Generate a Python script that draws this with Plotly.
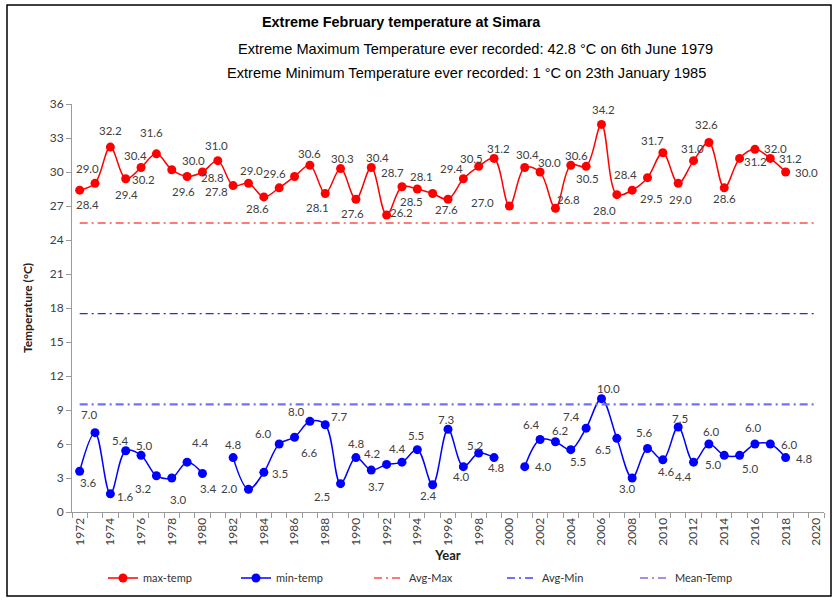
import plotly.graph_objects as go

years = list(range(1972, 2019))
max_temp = [28.4, 29.0, 32.2, 29.4, 30.4, 31.6, 30.2, 29.6, 30.0, 31.0,
            28.8, 29.0, 27.8, 28.6, 29.6, 30.6, 28.1, 30.3, 27.6, 30.4,
            26.2, 28.7, 28.5, 28.1, 27.6, 29.4, 30.5, 31.2, 27.0, 30.4,
            30.0, 26.8, 30.6, 30.5, 34.2, 28.0, 28.4, 29.5, 31.7, 29.0,
            31.0, 32.6, 28.6, 31.2, 32.0, 31.2, 30.0]
min_temp = [3.6, 7.0, 1.6, 5.4, 5.0, 3.2, 3.0, 4.4, 3.4, None,
            4.8, 2.0, 3.5, 6.0, 6.6, 8.0, 7.7, 2.5, 4.8, 3.7,
            4.2, 4.4, 5.5, 2.4, 7.3, 4.0, 5.2, 4.8, None, 4.0,
            6.4, 6.2, 5.5, 7.4, 10.0, 6.5, 3.0, 5.6, 4.6, 7.5,
            4.4, 6.0, 5.0, 5.0, 6.0, 6.0, 4.8]
line_years = list(range(1972, 2021))
avg_max = 25.5
avg_min = 9.5
mean_temp = 17.5
x_tick_years = list(range(1972, 2021, 2))
y_ticks = list(range(0, 37, 3))

# label offsets from each point (screen px: dx right, dy down)
max_off = [(8, 14), (-8, -15), (0, -17), (1, 16), (-6, -12), (-5, -21), (-28, 10),
           (-4, 15), (-9, -12), (-1, -15), (-21, -8), (3, -13), (-47, -5), (-22, 21),
           (-20, -3), (0, -12), (-8, 14), (2, -10), (-3, 14), (6, -10), (15, -3),
           (-9, -14), (-6, 12), (-11, -17), (-2, 10), (-12, -10), (-7, -8), (4, -10),
           (-27, -4), (3, -13), (9, -10), (13, -9), (6, -10), (1, 12), (2, -15),
           (-12, 16), (-7, -16), (4, 21), (-10, -12), (2, 16), (-1, -12), (-2, -18),
           (0, 11), (16, 3), (21, -1), (20, 0), (21, 0)]
min_off = [(8, 11), (-6, -18), (15, 3), (-6, -10), (3, -10), (-13, 13), (6, 21),
           (13, -20), (6, 15), None, (0, -13), (-19, -1), (16, 1), (-16, -11),
           (14, 15), (-14, -10), (14, -8), (-19, 13), (0, -14), (5, 16), (-15, -11),
           (-5, -14), (-1, -14), (-5, 11), (-2, -10), (-2, 10), (-4, -8), (2, 10),
           None, (18, 0), (-9, -15), (5, -11), (7, 12), (-15, -12), (7, -10),
           (-14, 11), (-5, 10), (-4, -16), (3, 12), (2, -9), (-11, 14), (2, -13),
           (-11, 9), (10, 13), (-2, -17), (19, 0), (18, 1)]

lbl_font = dict(family="Lato, Open Sans, sans-serif", size=11.5, color="#404040")
dash = "8px,4px,2px,4px"

fig = go.Figure()
fig.add_trace(go.Scatter(
    x=years, y=max_temp, name="max-temp", mode="lines+markers",
    line=dict(color="#ff0000", width=1.5, shape="spline", smoothing=1),
    marker=dict(color="#ff0000", size=9)))
fig.add_trace(go.Scatter(
    x=years, y=min_temp, name="min-temp", mode="lines+markers",
    line=dict(color="#0000ff", width=1.5, shape="spline", smoothing=1),
    marker=dict(color="#0000ff", size=9), connectgaps=False))
fig.add_trace(go.Scatter(
    x=line_years, y=[avg_max] * len(line_years), name="Avg-Max", mode="lines",
    line=dict(color="#ff4d4d", width=1.5, dash=dash)))
fig.add_trace(go.Scatter(
    x=line_years, y=[avg_min] * len(line_years), name="Avg-Min", mode="lines",
    line=dict(color="#7070ff", width=2.2, dash=dash)))
fig.add_trace(go.Scatter(
    x=line_years, y=[mean_temp] * len(line_years), name="Mean-Temp", mode="lines",
    line=dict(color="#5a14d6", width=1.2, dash=dash)))

L, R, T, B = 72, 14, 104, 89
W, H = 838, 601
pw, ph = W - L - R, H - T - B


def px(xp):
    return (xp - L) / pw


def py(yp):
    return (H - B - yp) / ph


annotations = []
for series, offs in ((max_temp, max_off), (min_temp, min_off)):
    for yr, v, off in zip(years, series, offs):
        if v is None or off is None:
            continue
        annotations.append(dict(
            x=yr, y=v, xref="x", yref="y", text=f"{v:.1f}", showarrow=False,
            xanchor="center", yanchor="middle", xshift=off[0], yshift=-off[1],
            font=lbl_font))

annotations += [
    dict(text="<b>Extreme February temperature at Simara</b>", xref="paper", yref="paper",
         x=px(401), y=py(22), showarrow=False, xanchor="center", yanchor="middle",
         font=dict(family="Liberation Sans, Arial", size=14.4, color="#000000")),
    dict(text="Extreme Maximum Temperature ever recorded: 42.8 °C on 6th June 1979",
         xref="paper", yref="paper", x=px(475), y=py(49), showarrow=False,
         xanchor="center", yanchor="middle",
         font=dict(family="Liberation Sans, Arial", size=14.6, color="#000000")),
    dict(text="Extreme Minimum Temperature ever recorded: 1 °C on 23th January 1985",
         xref="paper", yref="paper", x=px(466), y=py(73), showarrow=False,
         xanchor="center", yanchor="middle",
         font=dict(family="Liberation Sans, Arial", size=14.6, color="#000000")),
]

axis_font = dict(family="Lato, Open Sans, sans-serif", size=12, color="#404040")

fig.update_layout(
    width=W, height=H,
    margin=dict(l=L, r=R, t=T, b=B, autoexpand=False),
    paper_bgcolor="white", plot_bgcolor="white",
    showlegend=True,
    legend=dict(orientation="h", x=px(103), xanchor="left", y=py(578), yanchor="middle",
                font=dict(family="Lato, Open Sans, sans-serif", size=11, color="#303030"),
                entrywidth=88, entrywidthmode="pixels", itemwidth=30),
    xaxis=dict(range=[1971.5, 2020.5], tickmode="array", tickvals=x_tick_years,
               ticktext=[str(y) for y in x_tick_years], tickangle=-90,
               ticks="", showline=True, linecolor="#9a9a9a", linewidth=1,
               showgrid=False, zeroline=False, tickfont=axis_font,
               minor=dict(tickmode="linear", tick0=1971.5, dtick=1, ticks="outside",
                          ticklen=5, tickcolor="#9a9a9a", showgrid=False),
               title=dict(text="<b>Year</b>", standoff=6,
                          font=dict(family="Lato, Open Sans, sans-serif", size=13, color="#202020"))),
    yaxis=dict(range=[0, 36], tickmode="array", tickvals=y_ticks,
               ticks="outside", ticklen=5, tickcolor="#9a9a9a",
               showline=True, linecolor="#9a9a9a", linewidth=1,
               showgrid=False, zeroline=False, tickfont=axis_font,
               title=dict(text="<b>Temperature (°C)</b>", standoff=14,
                          font=dict(family="Lato, Open Sans, sans-serif", size=12, color="#202020"))),
    annotations=annotations,
    shapes=[dict(type="rect", xref="paper", yref="paper",
                 x0=px(7), x1=px(831), y0=py(596), y1=py(5),
                 line=dict(color="#000000", width=1.5), fillcolor="rgba(0,0,0,0)")],
)

fig.write_html("out.html", config={"displayModeBar": False},
               post_script="document.body.style.margin='0';document.body.style.overflow='hidden';")
